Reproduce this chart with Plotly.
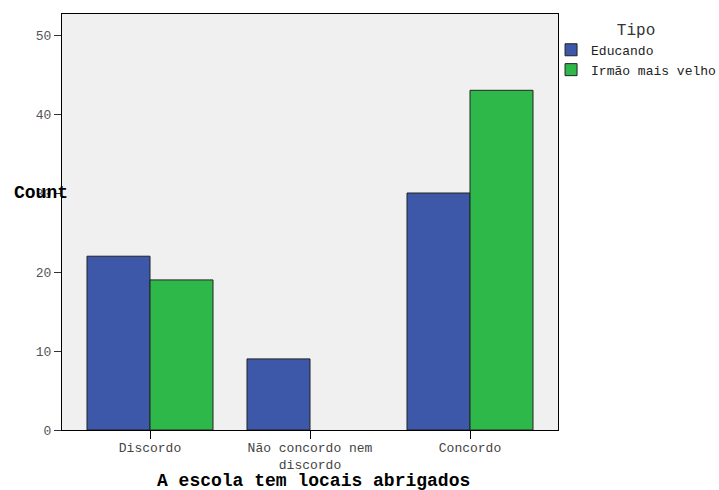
import plotly.graph_objects as go

categories = ["Discordo", "Não concordo nem<br>discordo", "Concordo"]
educando = [22, 9, 30]
irmao = [19, 0, 43]
series_names = ["Educando", "Irmão mais velho"]
y_ticks = [0, 10, 20, 30, 40, 50]

FONT = "Liberation Mono, Courier New, monospace"


def outline_widths(values):
    return [1 if v > 0 else 0 for v in values]


fig = go.Figure()
fig.add_trace(go.Bar(x=categories, y=educando, name=series_names[0],
                     marker=dict(color="#3D57A9",
                                 line=dict(color="#222222", width=outline_widths(educando)))))
fig.add_trace(go.Bar(x=categories, y=irmao, name=series_names[1],
                     marker=dict(color="#2FB84A",
                                 line=dict(color="#222222", width=outline_widths(irmao)))))

fig.update_layout(
    width=719, height=490,
    margin=dict(l=62, r=161, t=14, b=60, autoexpand=False),
    paper_bgcolor="white",
    plot_bgcolor="#F0F0F0",
    barmode="group",
    bargap=0.2125,
    bargroupgap=0,
    font=dict(family=FONT, size=13, color="#444444"),
    showlegend=True,
    legend=dict(
        title=dict(text="Tipo", side="top center", font=dict(family=FONT, size=16, color="#333333")),
        x=0.986, xanchor="left", y=1.0, yanchor="top",
        bgcolor="rgba(0,0,0,0)",
        font=dict(family=FONT, size=13, color="#222222"),
        tracegroupgap=0, itemwidth=30,
    ),
    xaxis=dict(
        range=[-0.55, 2.55],
        showline=True, linecolor="black", linewidth=1, mirror=True,
        ticks="outside", ticklen=8, tickcolor="black",
        ticklabelstandoff=-3,
        tickfont=dict(family=FONT, size=13, color="#444444"),
        showgrid=False,
    ),
    yaxis=dict(
        range=[0, 52.66],
        tickvals=y_ticks,
        showline=True, linecolor="black", linewidth=1, mirror=True,
        ticks="outside", ticklen=7, tickcolor="#333333",
        tickfont=dict(family=FONT, size=13, color="#555555"),
        showgrid=False, zeroline=False,
    ),
    annotations=[
        dict(text="<b>Count</b>", xref="paper", yref="paper", x=-0.101, y=0.570,
             xanchor="left", yanchor="middle", showarrow=False,
             font=dict(family=FONT, size=18, color="black")),
        dict(text="<b>A escola tem locais abrigados</b>", xref="paper", yref="paper",
             x=0.508, y=-0.1226, xanchor="center", yanchor="middle", showarrow=False,
             font=dict(family=FONT, size=18, color="black")),
    ],
)

fig.write_html("out.html", config={"displayModeBar": False},
               post_script="document.body.style.margin='0';")
